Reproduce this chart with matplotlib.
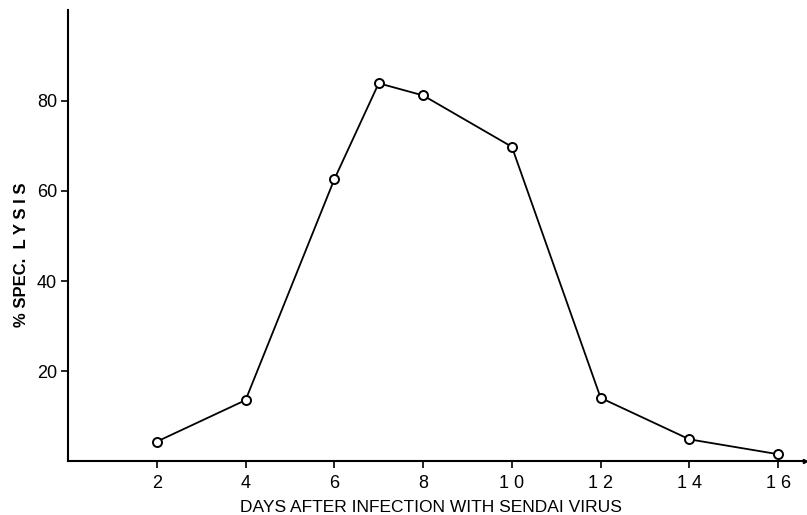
import matplotlib
matplotlib.use("Agg")
import matplotlib.pyplot as plt

days = [2, 4, 6, 7, 8, 10, 12, 14, 16]
lysis = [4.4, 13.6, 62.6, 83.9, 81.2, 69.8, 14.1, 4.9, 1.6]
xticks = [2, 4, 6, 8, 10, 12, 14, 16]
yticks = [20, 40, 60, 80]

plt.rcParams['font.family'] = ['Liberation Sans', 'DejaVu Sans']

fig = plt.figure(figsize=(8.07, 5.15), dpi=100)
ax = fig.add_axes([0.0843, 0.104, 0.913, 0.877])
ax.plot(days, lysis, color='black', lw=1.3, marker='o', markersize=6.5,
        markerfacecolor='white', markeredgecolor='black', markeredgewidth=1.4)
ax.set_xlim(0, 16.6)
ax.set_ylim(0, 100.2)
ax.spines['top'].set_visible(False)
ax.spines['right'].set_visible(False)
for s in ('left', 'bottom'):
    ax.spines[s].set_linewidth(1.5)
ax.set_xticks(xticks)
ax.set_yticks(yticks)
ax.set_xticklabels([str(v) if v < 10 else ' '.join(str(v)) for v in xticks])
ax.tick_params(axis='both', direction='out', length=5, width=1.2, labelsize=13, pad=3)
ax.tick_params(axis='x', pad=5)
ax.plot(1, 0, '>', color='black', markersize=3, transform=ax.get_yaxis_transform(), clip_on=False)

fig.text(431 / 807, 1 - 507 / 515, 'DAYS AFTER INFECTION WITH SENDAI VIRUS',
         ha='center', va='center', fontsize=12.5)
fig.text(22 / 807, 1 - 255 / 515, '% SPEC.  L Y S I S', rotation=90,
         ha='center', va='center', fontsize=12, fontweight='bold')

fig.savefig('out.png', dpi=100)
